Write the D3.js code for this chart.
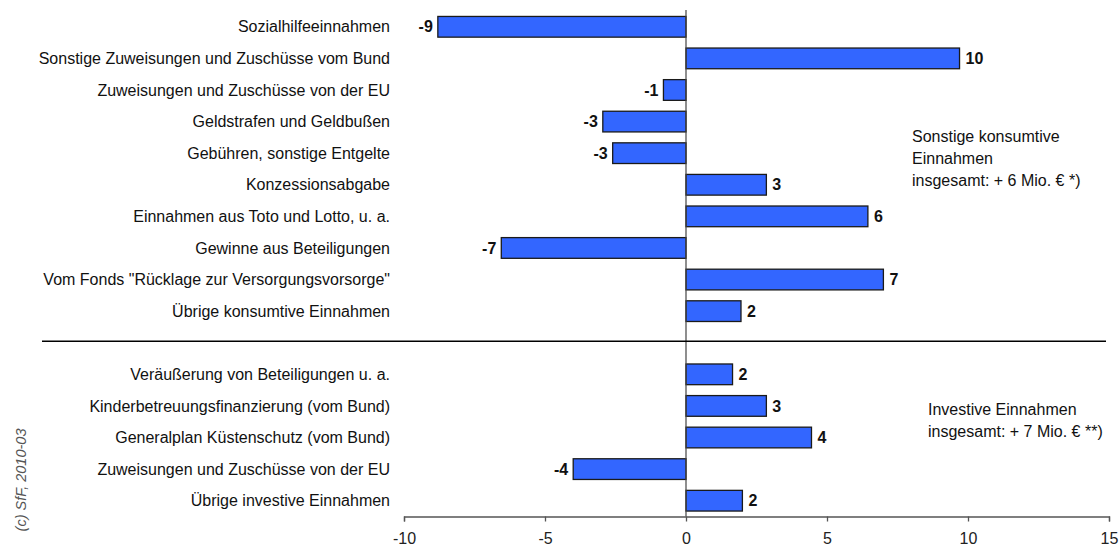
<!DOCTYPE html>
<html>
<head>
<meta charset="utf-8">
<script src="https://cdn.jsdelivr.net/npm/d3@7"></script>
<style>
  html, body { margin: 0; padding: 0; background: #fff; }
  svg { display: block; font-family: "Liberation Sans", Arial, sans-serif; }
</style>
</head>
<body>
<svg id="chart" width="1120" height="546"></svg>
<script>
// Sonstige konsumtive Einnahmen (Mio. €)
const consumptiveCategories = [
  "Sozialhilfeeinnahmen",
  "Sonstige Zuweisungen und Zuschüsse vom Bund",
  "Zuweisungen und Zuschüsse von der EU",
  "Geldstrafen und Geldbußen",
  "Gebühren, sonstige Entgelte",
  "Konzessionsabgabe",
  "Einnahmen aus Toto und Lotto, u. a.",
  "Gewinne aus Beteiligungen",
  "Vom Fonds \"Rücklage zur Versorgungsvorsorge\"",
  "Übrige konsumtive Einnahmen"
];
const consumptiveValues = [-8.8, 9.7, -0.8, -2.95, -2.6, 2.85, 6.45, -6.55, 7.0, 1.95];

// Investive Einnahmen (Mio. €)
const investiveCategories = [
  "Veräußerung von Beteiligungen u. a.",
  "Kinderbetreuungsfinanzierung (vom Bund)",
  "Generalplan Küstenschutz (vom Bund)",
  "Zuweisungen und Zuschüsse von der EU",
  "Übrige investive Einnahmen"
];
const investiveValues = [1.65, 2.85, 4.45, -4.0, 2.0];

const xTicks = [-10, -5, 0, 5, 10, 15];
const xDomain = [-10, 15];

const consumptiveNote = ["Sonstige konsumtive", "Einnahmen", "insgesamt: + 6 Mio. € *)"];
const investiveNote = ["Investive Einnahmen", "insgesamt: + 7 Mio. € **)"];
const credit = "(c) SfF, 2010-03";

// Rows: both groups share one band scale, with an empty slot between them
const rows = [
  ...consumptiveCategories.map((c, i) => ({ key: "k" + i, label: c, value: consumptiveValues[i] })),
  { key: "gap", label: null, value: null },
  ...investiveCategories.map((c, i) => ({ key: "i" + i, label: c, value: investiveValues[i] }))
];

const FONT = 16;
const svg = d3.select("#chart");
const x = d3.scaleLinear().domain(xDomain).range([404, 1109]);
const y = d3.scaleBand()
  .domain(rows.map(d => d.key))
  .range([11, 516.5])
  .paddingInner(0.345)
  .paddingOuter(0.1725);

// Whole numbers with a plain hyphen for negatives
const fmt = v => String(Math.round(v));
const bars = rows.filter(d => d.value !== null);

// Category labels
svg.append("g").selectAll("text")
  .data(bars)
  .join("text")
  .attr("x", 390)
  .attr("y", d => y(d.key) + y.bandwidth() / 2)
  .attr("dy", "0.35em")
  .attr("text-anchor", "end")
  .attr("font-size", FONT)
  .attr("fill", "#111")
  .text(d => d.label);

// Bars
svg.append("g").selectAll("rect")
  .data(bars)
  .join("rect")
  .attr("x", d => x(Math.min(0, d.value)))
  .attr("y", d => y(d.key))
  .attr("width", d => Math.abs(x(d.value) - x(0)))
  .attr("height", y.bandwidth())
  .attr("fill", "#3366ff")
  .attr("stroke", "#1a1a1a")
  .attr("stroke-width", 1.3);

// Value labels
svg.append("g").selectAll("text")
  .data(bars)
  .join("text")
  .attr("x", d => d.value < 0 ? x(d.value) - 5 : x(d.value) + 6)
  .attr("y", d => y(d.key) + y.bandwidth() / 2)
  .attr("dy", "0.35em")
  .attr("text-anchor", d => d.value < 0 ? "end" : "start")
  .attr("font-size", FONT)
  .attr("font-weight", "bold")
  .attr("fill", "#111")
  .text(d => fmt(d.value));

// Zero line
svg.append("line")
  .attr("x1", x(0)).attr("x2", x(0))
  .attr("y1", 10).attr("y2", 516.5)
  .attr("stroke", "#444").attr("stroke-width", 1.2);

// Separator between the two groups
const gapMid = y("gap") + y.bandwidth() / 2 - 1.5;
svg.append("line")
  .attr("x1", 42).attr("x2", 1106)
  .attr("y1", gapMid).attr("y2", gapMid)
  .attr("stroke", "#000").attr("stroke-width", 1.4);

// Bottom axis
const axis = svg.append("g")
  .attr("transform", "translate(0,516.5)")
  .call(d3.axisBottom(x).tickValues(xTicks).tickSize(5).tickPadding(11).tickFormat(fmt));
axis.select(".domain").attr("stroke", "#555").attr("stroke-width", 1.3);
axis.selectAll(".tick line").attr("stroke", "#555").attr("stroke-width", 1.3);
axis.selectAll(".tick text")
  .attr("font-size", FONT)
  .attr("font-family", "Liberation Sans, Arial, sans-serif")
  .attr("fill", "#222");

// Group notes
svg.append("text")
  .attr("x", 912).attr("y", 136)
  .attr("font-size", FONT).attr("fill", "#111")
  .selectAll("tspan")
  .data(consumptiveNote)
  .join("tspan")
  .attr("x", 912)
  .attr("dy", (d, i) => i === 0 ? "0.35em" : 22)
  .text(d => d);

svg.append("text")
  .attr("x", 928).attr("y", 409)
  .attr("font-size", FONT).attr("fill", "#111")
  .selectAll("tspan")
  .data(investiveNote)
  .join("tspan")
  .attr("x", 928)
  .attr("dy", (d, i) => i === 0 ? "0.35em" : 22)
  .text(d => d);

// Credit line
svg.append("text")
  .attr("transform", "translate(21,480) rotate(-90)")
  .attr("text-anchor", "middle")
  .attr("dy", "0.35em")
  .attr("font-size", 14.5)
  .attr("font-style", "italic")
  .attr("fill", "#555")
  .text(credit);
</script>
</body>
</html>
